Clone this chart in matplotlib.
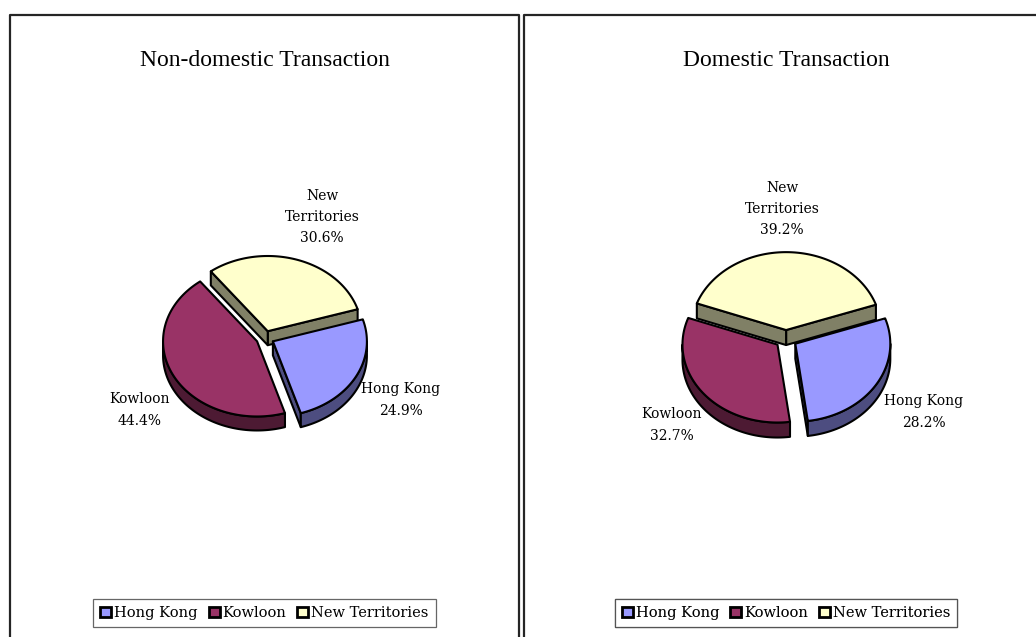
import numpy as np
import matplotlib
matplotlib.use("Agg")
import matplotlib.pyplot as plt
from matplotlib.patches import Polygon, Patch
from matplotlib.lines import Line2D

# ---------------- data ----------------
categories = ["Hong Kong", "Kowloon", "New Territories"]
non_domestic = [24.9, 44.4, 30.6]
domestic = [28.2, 32.7, 39.2]
titles = ["Non-domestic Transaction", "Domestic Transaction"]

top_colors = ["#9999FF", "#993366", "#FFFFCC"]
side_colors = ["#4D4D80", "#4D1A33", "#808066"]

W, H = 1036, 637
fig = plt.figure(figsize=(W / 100, H / 100), dpi=100)
ax = fig.add_axes([0, 0, 1, 1])
ax.set_xlim(0, W)
ax.set_ylim(H, 0)
ax.axis("off")

SERIF = ["DejaVu Serif"]
TITLE_FONT = ["Liberation Serif", "DejaVu Serif"]
LW = 1.5


def draw_pie(ax, values, cx, cy, R, ratio, depth, explode, start):
    vals = np.asarray(values, float)
    fr = vals / vals.sum()
    bounds = start - 360.0 * np.concatenate([[0.0], np.cumsum(fr)])
    slices = []
    for i in range(len(vals)):
        a_hi, a_lo = bounds[i], bounds[i + 1]
        mid = np.radians((a_hi + a_lo) / 2)
        ox = explode * R * np.cos(mid)
        oy = -explode * R * ratio * np.sin(mid)
        slices.append((a_lo, a_hi, ox, oy, mid, i))
    slices.sort(key=lambda s: -np.sin(s[4]))

    for a_lo, a_hi, ox, oy, mid, i in slices:
        x0, y0 = cx + ox, cy + oy

        def rim(th_deg, dz=0.0):
            t = np.radians(th_deg)
            return (x0 + R * np.cos(t), y0 - ratio * R * np.sin(t) + dz)

        z = 10 - np.sin(mid)
        # cut faces
        for edge, visible in ((a_lo, np.cos(np.radians(a_lo)) > 0),
                              (a_hi, np.cos(np.radians(a_hi)) < 0)):
            if visible:
                p1 = rim(edge)
                p2 = rim(edge, depth)
                poly = [(x0, y0), p1, p2, (x0, y0 + depth)]
                ax.add_patch(Polygon(poly, closed=True, facecolor=side_colors[i],
                                     edgecolor="black", lw=LW, joinstyle="round", zorder=z))
        # outer wall (front half)
        for k in range(-3, 3):
            lo = max(a_lo, 180 + 360 * k)
            hi = min(a_hi, 360 + 360 * k)
            if hi > lo:
                th = np.linspace(lo, hi, 80)
                top = [rim(t) for t in th]
                bot = [rim(t, depth) for t in th[::-1]]
                ax.add_patch(Polygon(top + bot, closed=True, facecolor=side_colors[i],
                                     edgecolor="black", lw=LW, joinstyle="round", zorder=z + 0.1))
        # top face
        th = np.linspace(a_lo, a_hi, 120)
        poly = [(x0, y0)] + [rim(t) for t in th]
        ax.add_patch(Polygon(poly, closed=True, facecolor=top_colors[i],
                             edgecolor="black", lw=LW, joinstyle="round", zorder=z + 0.2))


# ---------------- panels ----------------
border_kw = dict(color="#252525", lw=1.6, solid_capstyle="butt")
ax.add_line(Line2D([10, 10, 519, 519], [H, 15, 15, H], **border_kw))
ax.add_line(Line2D([524, 524, W], [H, 15, 15], **border_kw))

panel_centers = [264.5, 786]
pie_specs = [
    dict(values=non_domestic, cx=265, cy=338, R=94, ratio=0.8, depth=14, explode=0.095, start=17),
    dict(values=domestic, cx=786, cy=339, R=95, ratio=0.82, depth=15, explode=0.115, start=19),
]
label_pos = [
    [(401, 400), (140, 410), (322, 217)],
    [(924, 412), (672, 425), (782, 209)],
]
label_names = ["Hong Kong", "Kowloon", "New\nTerritories"]

for p, spec in enumerate(pie_specs):
    draw_pie(ax, **spec)
    ax.text(panel_centers[p], 61, titles[p], ha="center", va="center",
            fontsize=17, family=TITLE_FONT, color="black")
    for j, v in enumerate(spec["values"]):
        ax.text(label_pos[p][j][0], label_pos[p][j][1], f"{label_names[j]}\n{v:.1f}%",
                ha="center", va="center", fontsize=10, family=SERIF,
                linespacing=1.65, zorder=30)
    handles = [Patch(facecolor=top_colors[j], edgecolor="black", lw=2.0) for j in range(3)]
    leg = ax.legend(handles, categories, loc="center",
                    bbox_to_anchor=(panel_centers[p], 613), bbox_transform=ax.transData,
                    ncol=3, frameon=True, fancybox=False, edgecolor="#404040",
                    handlelength=0.75, handleheight=0.75, handletextpad=0.2,
                    columnspacing=0.75, borderpad=0.5, borderaxespad=0,
                    prop={"family": SERIF, "size": 10.5})
    leg.get_frame().set_linewidth(0.9)
    leg.set_zorder(40)
    ax.add_artist(leg)

fig.savefig("out.png", dpi=100, facecolor="white")
